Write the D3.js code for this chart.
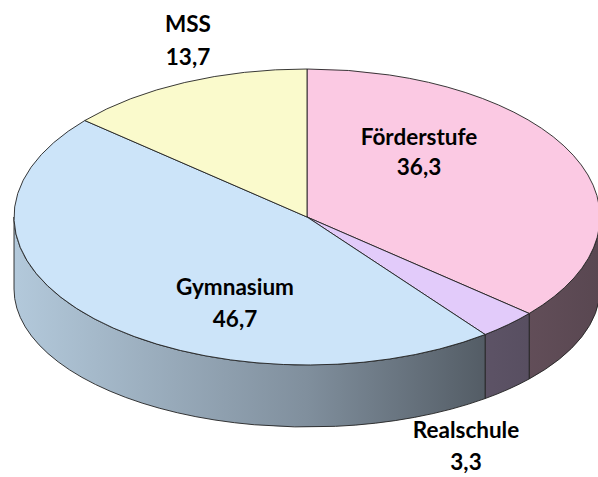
<!DOCTYPE html>
<html>
<head>
<meta charset="utf-8">
<script src="https://cdn.jsdelivr.net/npm/d3@7"></script>
<style>
  body { margin: 0; background: #fff; }
  svg { display: block; }
  .lbl { font-family: Lato, 'Open Sans', sans-serif; font-weight: 700; fill: #000; }
</style>
</head>
<body>
<div id="chart"></div>
<script>
const categories = ['Förderstufe', 'Realschule', 'Gymnasium', 'MSS']
const values = [36.3, 3.3, 46.7, 13.7]
const valueLabels = ['36,3', '3,3', '46,7', '13,7']
const colors = ['#FBC9E3', '#E2CBFA', '#CCE4F9', '#FAFACC']

const width = 598
const height = 477

// ellipse geometry of the tilted pie
const cx = 307
const cy = 217
const rx = 293
const ry = 148
const depth = 72
const ryBottom = 138

const svg = d3
  .select('#chart')
  .append('svg')
  .attr('width', width)
  .attr('height', height)

const defs = svg.append('defs')

const pie = d3.pie().sort(null).value(d => d)
const arcs = pie(values)

const topPt = a => [cx + rx * Math.sin(a), cy - ry * Math.cos(a)]
const botPt = a => [cx + rx * Math.sin(a), cy + depth - ryBottom * Math.cos(a)]

// shading of the side wall, light on the left, dark on the right
arcs.forEach((d, i) => {
  const g = defs
    .append('linearGradient')
    .attr('id', 'side' + i)
    .attr('gradientUnits', 'userSpaceOnUse')
    .attr('x1', cx - rx)
    .attr('x2', cx + rx)
    .attr('y1', 0)
    .attr('y2', 0)
  g.append('stop').attr('offset', 0).attr('stop-color', d3.color(colors[i]).darker(0.36))
  g.append('stop').attr('offset', 0.5).attr('stop-color', d3.color(colors[i]).darker(1.3))
  g.append('stop').attr('offset', 0.8).attr('stop-color', d3.color(colors[i]).darker(2.5))
  g.append('stop').attr('offset', 1).attr('stop-color', d3.color(colors[i]).darker(2.9))
})

// visible front part of the wall is from PI/2 to 3PI/2
const sides = svg.append('g')
arcs.forEach((d, i) => {
  const a0 = Math.max(d.startAngle, Math.PI / 2)
  const a1 = Math.min(d.endAngle, Math.PI * 1.5)
  if (a1 <= a0) return
  const p0 = topPt(a0), p1 = topPt(a1), b0 = botPt(a0), b1 = botPt(a1)
  const path =
    `M${p0} A${rx},${ry} 0 0 1 ${p1} L${b1} A${rx},${ryBottom} 0 0 0 ${b0} Z`
  sides
    .append('path')
    .attr('d', path)
    .attr('fill', `url(#side${i})`)
    .attr('stroke', '#222')
    .attr('stroke-width', 0.9)
    .attr('stroke-linejoin', 'round')
})

const faces = svg.append('g')
arcs.forEach((d, i) => {
  const p0 = topPt(d.startAngle), p1 = topPt(d.endAngle)
  const large = d.endAngle - d.startAngle > Math.PI ? 1 : 0
  faces
    .append('path')
    .attr('d', `M${cx},${cy} L${p0} A${rx},${ry} 0 ${large} 1 ${p1} Z`)
    .attr('fill', colors[i])
    .attr('stroke', '#222')
    .attr('stroke-width', 0.9)
    .attr('stroke-linejoin', 'round')
})

// label positions (centre x, name baseline, value baseline)
const labelPos = [
  [419, 145, 175],
  [466, 438, 470],
  [235, 295, 327],
  [188, 32, 65]
]

const labels = svg.append('g')
categories.forEach((c, i) => {
  const [x, y1, y2] = labelPos[i]
  labels.append('text').attr('class', 'lbl').attr('x', x).attr('y', y1)
    .attr('text-anchor', 'middle').style('font-size', '22.5px').text(c)
  labels.append('text').attr('class', 'lbl').attr('x', x).attr('y', y2)
    .attr('text-anchor', 'middle').style('font-size', '22.5px').text(valueLabels[i])
})
</script>
</body>
</html>
